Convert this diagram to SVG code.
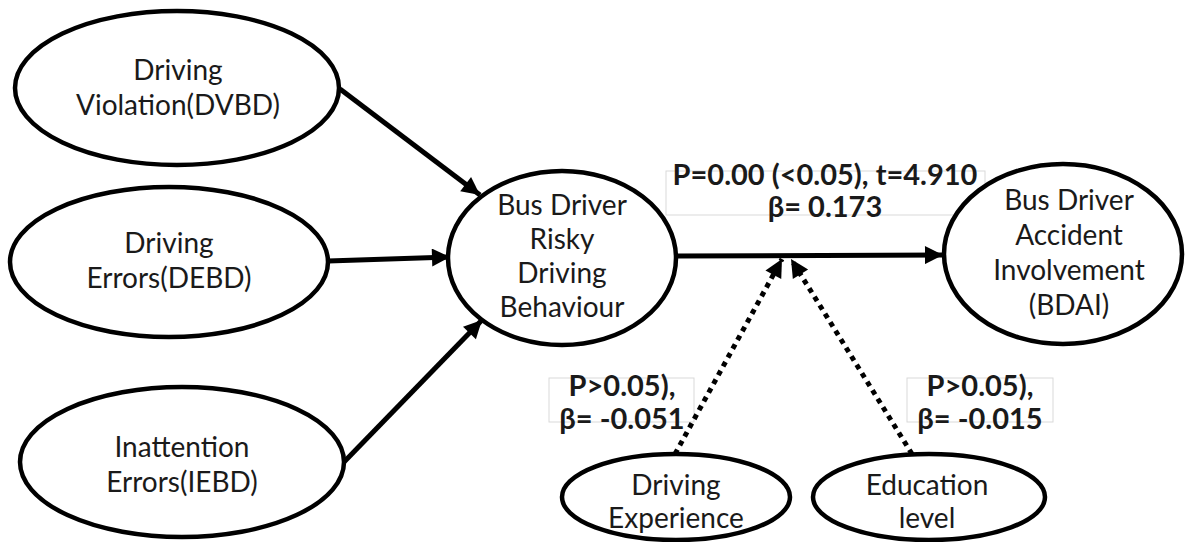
<svg xmlns="http://www.w3.org/2000/svg" width="1192" height="542" viewBox="0 0 1192 542">
<style>
.node ellipse{fill:#fff;stroke:#000;stroke-width:4.5}
.t{font-family:Lato,"Liberation Sans",sans-serif;font-size:28px;fill:#1a1a1a;text-anchor:middle}
.b{font-family:Lato,"Liberation Sans",sans-serif;font-size:29px;font-weight:bold;fill:#1a1a1a;text-anchor:middle}
.lbl rect{fill:#fff;stroke:#d9d9d9;stroke-width:1}
.solid{stroke:#000;stroke-width:5;fill:none}
.dot{stroke:#000;stroke-width:5;fill:none;stroke-dasharray:5 5}
</style>
<defs>
<marker id="ah" viewBox="0 0 10 10" refX="10" refY="5" markerWidth="4.4" markerHeight="3.6" orient="auto" markerUnits="strokeWidth">
<path d="M0,0 L10,5 L0,10 z" fill="#000"/>
</marker>
</defs>
<rect width="1192" height="542" fill="#fff"/>
<g id="labels" class="lbl">
<rect x="666" y="171" width="319" height="44"/>
<rect x="549" y="378" width="145" height="44"/>
<rect x="907" y="378" width="146" height="44"/>
</g>
<g id="connectors">
<line class="solid" x1="340" y1="89" x2="480" y2="195" marker-end="url(#ah)"/>
<line class="solid" x1="328" y1="261" x2="450" y2="257" marker-end="url(#ah)"/>
<line class="solid" x1="344" y1="462" x2="482" y2="320" marker-end="url(#ah)"/>
<line class="solid" x1="677" y1="256" x2="943" y2="255" marker-end="url(#ah)"/>
<line class="dot" x1="675" y1="454" x2="782" y2="259" marker-end="url(#ah)"/>
<line class="dot" x1="912" y1="454" x2="791" y2="259" marker-end="url(#ah)"/>
</g>
<g id="n-dvbd" class="node">
<ellipse cx="177" cy="88" rx="162" ry="77"/>
<text class="t" x="178" y="80">Driving</text>
<text class="t" x="178" y="115">Violation(DVBD)</text>
</g>
<g id="n-debd" class="node">
<ellipse cx="169" cy="262" rx="159" ry="75"/>
<text class="t" x="169" y="253">Driving</text>
<text class="t" x="169" y="288">Errors(DEBD)</text>
</g>
<g id="n-iebd" class="node">
<ellipse cx="182" cy="462" rx="162" ry="75"/>
<text class="t" x="182" y="457">Inattention</text>
<text class="t" x="182" y="492">Errors(IEBD)</text>
</g>
<g id="n-bdrdb" class="node">
<ellipse cx="562" cy="258" rx="114" ry="87"/>
<text class="t" x="562" y="215">Bus Driver</text>
<text class="t" x="562" y="249">Risky</text>
<text class="t" x="562" y="283">Driving</text>
<text class="t" x="562" y="317">Behaviour</text>
</g>
<g id="n-bdai" class="node">
<ellipse cx="1063" cy="254" rx="119" ry="90"/>
<text class="t" x="1069" y="210">Bus Driver</text>
<text class="t" x="1069" y="245">Accident</text>
<text class="t" x="1069" y="280">Involvement</text>
<text class="t" x="1069" y="315">(BDAI)</text>
</g>
<g id="n-exp" class="node">
<ellipse cx="676" cy="497" rx="114" ry="43"/>
<text class="t" x="676" y="495">Driving</text>
<text class="t" x="676" y="528">Experience</text>
</g>
<g id="n-edu" class="node">
<ellipse cx="929" cy="497" rx="116" ry="43"/>
<text class="t" x="927" y="495">Education</text>
<text class="t" x="927" y="528">level</text>
</g>
<g id="label-text">
<text class="b" x="825" y="185">P=0.00 (&lt;0.05), t=4.910</text>
<text class="b" x="825" y="217">β= 0.173</text>
<text class="b" x="622" y="396">P&gt;0.05),</text>
<text class="b" x="622" y="429">β= -0.051</text>
<text class="b" x="980" y="396">P&gt;0.05),</text>
<text class="b" x="980" y="429">β= -0.015</text>
</g>
</svg>
